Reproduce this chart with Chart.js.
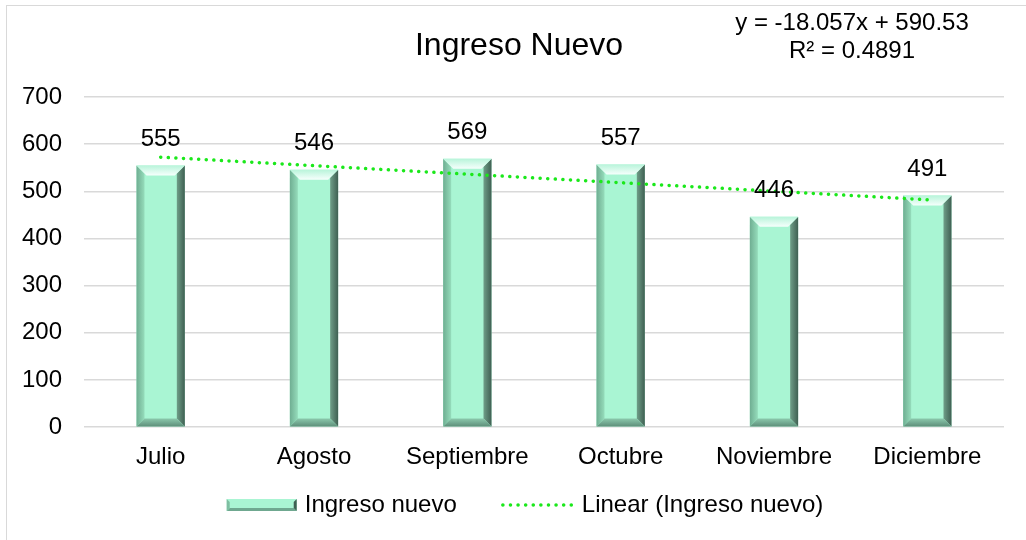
<!DOCTYPE html>
<html>
<head>
<meta charset="utf-8">
<script src="https://cdn.jsdelivr.net/npm/chart.js@4"></script>
<style>
  html, body { margin: 0; padding: 0; background: #fff; }
  #wrap { width: 1026px; height: 540px; }
</style>
</head>
<body>
<div id="wrap"><canvas id="chart" width="1026" height="540"></canvas></div>
<script>
// datos
const meses = ['Julio', 'Agosto', 'Septiembre', 'Octubre', 'Noviembre', 'Diciembre'];
const ingresoNuevo = [555, 546, 569, 557, 446, 491];
// tendencia lineal (y = -18.057x + 590.53)
const tendencia = [572.5, 554.4, 536.4, 518.3, 500.2, 482.2];
const yTicks = [0, 100, 200, 300, 400, 500, 600, 700];
const tituloTxt = 'Ingreso Nuevo';
const ecuacion = ['y = -18.057x + 590.53', 'R² = 0.4891'];

const FONT = '"Liberation Sans", Arial, sans-serif';
const MINT = '#a9f5d3';
const TREND = '#1be81b';

// marco y textos de cabecera
const frameAndTitle = {
  id: 'frameAndTitle',
  beforeDraw(chart) {
    const ctx = chart.ctx;
    ctx.save();
    ctx.strokeStyle = '#d9d9d9';
    ctx.lineWidth = 1;
    ctx.strokeRect(6.5, 5.5, 1040, 560);
    ctx.restore();
  },
  afterDraw(chart) {
    const ctx = chart.ctx;
    ctx.save();
    ctx.fillStyle = '#000';
    ctx.textAlign = 'center';
    ctx.textBaseline = 'middle';
    ctx.font = '32px ' + FONT;
    ctx.fillText(tituloTxt, 519, 46);
    ctx.font = '24px ' + FONT;
    ctx.fillText(ecuacion[0], 852, 23);
    ctx.fillText(ecuacion[1], 852, 51);
    ctx.restore();
  }
};

// leyenda inferior
const leyenda = {
  id: 'leyenda',
  afterDraw(chart) {
    const ctx = chart.ctx;
    const ds = chart.data.datasets;
    ctx.save();
    ctx.font = '24px ' + FONT;
    const w1 = ctx.measureText(ds[0].label).width;
    const w2 = ctx.measureText(ds[1].label).width;
    const total = 70 + 8 + w1 + 44 + 76 + 5 + w2;
    let x = 525 - total / 2;
    const y = 505;
    // muestra de barra
    ctx.fillStyle = MINT;
    ctx.fillRect(x, y - 6, 70, 12);
    ctx.fillStyle = '#6fa890';
    ctx.beginPath();
    ctx.moveTo(x, y + 6); ctx.lineTo(x + 3, y + 3); ctx.lineTo(x + 67, y + 3); ctx.lineTo(x + 70, y + 6);
    ctx.closePath(); ctx.fill();
    ctx.fillStyle = '#3f5f52';
    ctx.beginPath();
    ctx.moveTo(x + 70, y - 6); ctx.lineTo(x + 67, y - 3); ctx.lineTo(x + 67, y + 3); ctx.lineTo(x + 70, y + 6);
    ctx.closePath(); ctx.fill();
    ctx.fillStyle = '#7fbfa2';
    ctx.beginPath();
    ctx.moveTo(x, y - 6); ctx.lineTo(x + 3, y - 3); ctx.lineTo(x + 3, y + 3); ctx.lineTo(x, y + 6);
    ctx.closePath(); ctx.fill();
    x += 78;
    ctx.fillStyle = '#000';
    ctx.textAlign = 'left';
    ctx.textBaseline = 'middle';
    ctx.fillText(ds[0].label, x, y);
    x += w1 + 44;
    // muestra de linea punteada
    ctx.strokeStyle = TREND;
    ctx.lineWidth = 3.5;
    ctx.lineCap = 'round';
    ctx.setLineDash([0.1, 7.5]);
    ctx.beginPath();
    ctx.moveTo(x + 2, y); ctx.lineTo(x + 74, y);
    ctx.stroke();
    ctx.setLineDash([]);
    x += 81;
    ctx.fillText(ds[1].label, x, y);
    ctx.restore();
  }
};

// efecto biselado de las barras
const bevel = {
  id: 'bevel',
  afterDatasetDraw(chart, args) {
    if (args.index !== 0) return;
    const ctx = chart.ctx;
    const b = 8;
    args.meta.data.forEach(bar => {
      const l = bar.x - bar.width / 2, r = bar.x + bar.width / 2;
      const t = bar.y, bt = bar.base;
      const poly = (pts, fill) => {
        ctx.beginPath();
        ctx.moveTo(pts[0][0], pts[0][1]);
        for (let i = 1; i < pts.length; i++) ctx.lineTo(pts[i][0], pts[i][1]);
        ctx.closePath();
        ctx.fillStyle = fill;
        ctx.fill();
      };
      ctx.save();
      let g = ctx.createLinearGradient(l, 0, l + b, 0);
      g.addColorStop(0, '#6fae92');
      g.addColorStop(1, '#95dcbb');
      poly([[l, t], [l + b, t + b], [l + b, bt - b], [l, bt]], g);
      g = ctx.createLinearGradient(r - b, 0, r, 0);
      g.addColorStop(0, '#6f9e88');
      g.addColorStop(1, '#3f5f52');
      poly([[r, t], [r - b, t + b], [r - b, bt - b], [r, bt]], g);
      g = ctx.createLinearGradient(0, t, 0, t + b + 2);
      g.addColorStop(0, '#b8f4da');
      g.addColorStop(1, '#f6fffc');
      poly([[l, t], [r, t], [r - b - 2, t + b + 2], [l + b + 2, t + b + 2]], g);
      g = ctx.createLinearGradient(0, bt - b, 0, bt);
      g.addColorStop(0, '#8cc9ad');
      g.addColorStop(1, '#5e8f7a');
      poly([[l, bt], [l + b, bt - b], [r - b, bt - b], [r, bt]], g);
      ctx.restore();
    });
  }
};

// etiquetas de valores
const valueLabels = {
  id: 'valueLabels',
  afterDatasetsDraw(chart) {
    const ctx = chart.ctx;
    const meta = chart.getDatasetMeta(0);
    ctx.save();
    ctx.fillStyle = '#000';
    ctx.font = '24px ' + FONT;
    ctx.textAlign = 'center';
    ctx.textBaseline = 'middle';
    meta.data.forEach((bar, i) => {
      ctx.fillText(String(ingresoNuevo[i]), bar.x, bar.y - 26);
    });
    ctx.restore();
  }
};

const ctx = document.getElementById('chart').getContext('2d');
new Chart(ctx, {
  data: {
    labels: meses,
    datasets: [
      {
        type: 'bar',
        label: 'Ingreso nuevo',
        data: ingresoNuevo,
        backgroundColor: MINT,
        borderWidth: 0,
        barPercentage: 0.63,
        categoryPercentage: 0.5,
        order: 2
      },
      {
        type: 'line',
        label: 'Linear (Ingreso nuevo)',
        data: tendencia,
        borderColor: TREND,
        borderWidth: 3.5,
        borderDash: [0.1, 7.5],
        borderCapStyle: 'round',
        pointRadius: 0,
        fill: false,
        order: 1
      }
    ]
  },
  options: {
    responsive: false,
    animation: false,
    layout: { padding: { left: 6, right: 22, top: 97, bottom: 52 } },
    plugins: {
      title: { display: false },
      tooltip: { enabled: false },
      legend: { display: false }
    },
    scales: {
      x: {
        offset: true,
        grid: { display: false, drawTicks: false },
        border: { display: false },
        ticks: { color: '#000', padding: 16, font: { family: FONT, size: 24 } }
      },
      y: {
        min: 0,
        max: 700,
        afterFit: s => { s.width = 78; },
        afterBuildTicks: s => { s.ticks = yTicks.map(v => ({ value: v })); },
        grid: { color: '#d9d9d9', lineWidth: 1.5, drawTicks: false },
        border: { display: false },
        ticks: { color: '#000', padding: 22, font: { family: FONT, size: 24 } }
      }
    }
  },
  plugins: [frameAndTitle, bevel, valueLabels, leyenda]
});
</script>
</body>
</html>
